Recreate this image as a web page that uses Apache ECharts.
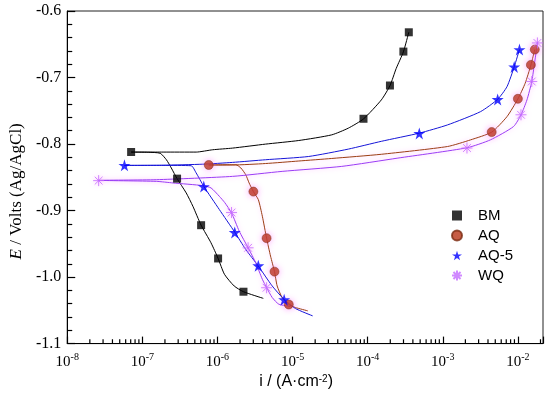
<!DOCTYPE html>
<html>
<head>
<meta charset="utf-8">
<script src="https://cdn.jsdelivr.net/npm/echarts@6/dist/echarts.min.js"></script>
<style>html,body{margin:0;padding:0;background:#fff}#c{width:550px;height:395px}</style>
</head>
<body>
<div id="c"></div>
<script>
// ---- data: [current density A/cm2, potential V] ----
const bmLine = [[4.08e-6,-1.032],[2.22e-6,-1.022],[1.67e-6,-1.0134],[1.24e-6,-0.9958],[1.02e-6,-0.9719],[8.2e-7,-0.9484],[6.06e-7,-0.922],[4.71e-7,-0.8935],[3.84e-7,-0.8735],[2.90e-7,-0.852],[2.43e-7,-0.836],[2.09e-7,-0.8236],[1.73e-7,-0.8139],[1.20e-7,-0.8124],[7.09e-8,-0.8121],[1.89e-7,-0.8121],[5.21e-7,-0.8121],[8.65e-7,-0.8086],[1.59e-6,-0.8061],[4.38e-6,-0.8001],[1.21e-5,-0.7947],[3.32e-5,-0.7862],[5.53e-5,-0.7761],[8.80e-5,-0.7622],[1.52e-4,-0.7337],[1.98e-4,-0.7123],[2.40e-4,-0.6863],[2.99e-4,-0.6614],[3.53e-4,-0.6319]];
const bmMarks = [[7.09e-8,-0.812],[2.90e-7,-0.852],[6.06e-7,-0.922],[1.02e-6,-0.972],[2.22e-6,-1.022],[8.80e-5,-0.762],[1.98e-4,-0.712],[2.99e-4,-0.661],[3.53e-4,-0.632]];

const aqLine = [[1.60e-5,-1.0508],[1.09e-5,-1.0457],[8.91e-6,-1.0412],[7.27e-6,-1.0307],[6.24e-6,-1.0134],[5.75e-6,-0.9918],[5.09e-6,-0.9684],[4.51e-6,-0.9415],[3.96e-6,-0.9085],[3.50e-6,-0.8835],[3.01e-6,-0.8715],[2.64e-6,-0.8585],[2.38e-6,-0.8461],[2.05e-6,-0.836],[1.76e-6,-0.8311],[7.66e-7,-0.8315],[1.59e-6,-0.8315],[4.38e-6,-0.8293],[1.21e-5,-0.8255],[3.32e-5,-0.8217],[1.52e-4,-0.8154],[1.16e-3,-0.8037],[2.35e-3,-0.7937],[4.48e-3,-0.7821],[7.16e-3,-0.7588],[1.00e-2,-0.7322],[1.25e-2,-0.7087],[1.49e-2,-0.6813],[1.68e-2,-0.6578]];
const aqMarks = [[7.66e-7,-0.8315],[3.01e-6,-0.8715],[4.51e-6,-0.9415],[5.75e-6,-0.9918],[8.91e-6,-1.0412],[4.48e-3,-0.782],[1.00e-2,-0.732],[1.49e-2,-0.681],[1.68e-2,-0.658]];

const aq5Line = [[1.85e-5,-1.0583],[1.09e-5,-1.0472],[7.73e-6,-1.0337],[5.36e-6,-1.0134],[3.50e-6,-0.9834],[2.38e-6,-0.9584],[1.70e-6,-0.9325],[1.06e-6,-0.8985],[6.58e-7,-0.8636],[5.21e-7,-0.8435],[4.47e-7,-0.8326],[1.89e-7,-0.8321],[5.78e-8,-0.8321],[1.89e-7,-0.8318],[6.38e-7,-0.8303],[1.59e-6,-0.8276],[4.38e-6,-0.8236],[1.64e-5,-0.8187],[5.53e-5,-0.8076],[1.52e-4,-0.7959],[4.87e-4,-0.7836],[1.16e-3,-0.7712],[3.18e-3,-0.7513],[5.38e-3,-0.7327],[7.16e-3,-0.7138],[8.94e-3,-0.6839],[1.05e-2,-0.6578]];
const aq5Marks = [[5.78e-8,-0.832],[6.58e-7,-0.864],[1.70e-6,-0.933],[3.50e-6,-0.983],[7.73e-6,-1.034],[4.87e-4,-0.784],[5.38e-3,-0.733],[8.94e-3,-0.684],[1.05e-2,-0.658]];

const wqLine = [[9.36e-6,-1.0442],[6.57e-6,-1.0408],[5.36e-6,-1.0307],[4.51e-6,-1.0158],[3.96e-6,-1.0033],[3.23e-6,-0.9783],[2.56e-6,-0.9559],[1.95e-6,-0.931],[1.54e-6,-0.9034],[1.25e-6,-0.888],[1.06e-6,-0.8786],[8.22e-7,-0.866],[6.38e-7,-0.8625],[2.56e-7,-0.8585],[1.54e-7,-0.8561],[2.62e-8,-0.8546],[1.54e-7,-0.8536],[1.59e-6,-0.8486],[7.27e-6,-0.8411],[4.51e-5,-0.8336],[2.53e-4,-0.8211],[2.10e-3,-0.8056],[4.31e-3,-0.7937],[8.75e-3,-0.7737],[1.10e-2,-0.7562],[1.32e-2,-0.7337],[1.53e-2,-0.7063],[1.64e-2,-0.6839],[1.82e-2,-0.6479]];
const wqMarks = [[2.62e-8,-0.855],[1.54e-6,-0.903],[2.56e-6,-0.956],[4.51e-6,-1.016],[2.10e-3,-0.806],[1.10e-2,-0.756],[1.53e-2,-0.706],[1.82e-2,-0.648]];

const seriesNames = ['BM','AQ','AQ-5','WQ'];
const xMinorTicks = [
  2e-8,3e-8,4e-8,5e-8,6e-8,7e-8,8e-8,9e-8,
  2e-7,3e-7,4e-7,5e-7,6e-7,7e-7,8e-7,9e-7,
  2e-6,3e-6,4e-6,5e-6,6e-6,7e-6,8e-6,9e-6,
  2e-5,3e-5,4e-5,5e-5,6e-5,7e-5,8e-5,9e-5,
  2e-4,3e-4,4e-4,5e-4,6e-4,7e-4,8e-4,9e-4,
  2e-3,3e-3,4e-3,5e-3,6e-3,7e-3,8e-3,9e-3,
  2e-2
];
const tickBase = -1.1, tickTop = -1.0933;

const SERIF = 'Liberation Serif';
const SANS = 'Liberation Sans';
const starPath = 'path://M0,-1L0.2245,-0.309L0.951,-0.309L0.363,0.118L0.588,0.809L0,0.382L-0.588,0.809L-0.363,0.118L-0.951,-0.309L-0.2245,-0.309Z';
const astPath = 'path://M0,-1L0,1M-1,0L1,0M-0.707,-0.707L0.707,0.707M-0.707,0.707L0.707,-0.707';

const chart = echarts.init(document.getElementById('c'), null, {renderer: 'canvas'});

function lineS(name, data, color, extra) {
  return Object.assign({
    name: name + ' curve', type: 'line', data: data, showSymbol: false, symbol: 'none',
    smooth: 0.2, lineStyle: {color: color, width: 1}, z: 2, silent: true
  }, extra || {});
}

const minorTickData = [];
xMinorTicks.forEach(function (v) { minorTickData.push([v, tickBase], [v, tickTop], '-'); });

const option = {
  animation: false,
  grid: {left: 63, right: 7, top: 11, bottom: 50, show: true, borderColor: '#222', borderWidth: 1},
  legend: {
    orient: 'vertical', left: 446, top: 203, itemWidth: 10, itemHeight: 10, itemGap: 5,
    data: seriesNames,
    textStyle: {fontFamily: SANS, fontSize: 15, color: '#000', padding: [0, 0, 0, 11]}
  },
  xAxis: {
    type: 'log', logBase: 10, min: 1e-8, max: 0.0216,
    name: '{n|i / (A·cm}{s|-2}{n|)}', nameLocation: 'middle', nameGap: 26,
    nameTextStyle: {
      padding: [0, 18, 0, 0],
      rich: {n: {fontFamily: SANS, fontSize: 16, color: '#000'}, s: {fontFamily: SANS, fontSize: 10, color: '#000', verticalAlign: 'top', lineHeight: 10}}
    },
    axisLine: {lineStyle: {color: '#000', width: 1}},
    axisTick: {inside: true, length: 7, lineStyle: {color: '#000', width: 1.2}},
    splitLine: {show: false},
    axisLabel: {
      margin: 9,
      formatter: function (v) {
        const l = Math.log10(v); const n = Math.round(l);
        if (Math.abs(l - n) > 1e-6) return '';
        return '{b|10}{s|' + n + '}';
      },
      rich: {b: {fontFamily: SERIF, fontSize: 15, color: '#000', lineHeight: 18}, s: {fontFamily: SERIF, fontSize: 10, color: '#000', verticalAlign: 'top', lineHeight: 10}}
    }
  },
  yAxis: {
    type: 'value', min: -1.1, max: -0.6, interval: 0.1,
    name: '{i|E}{n| / Volts (Ag/AgCl)}', nameLocation: 'middle', nameGap: 40, nameRotate: 90,
    nameTextStyle: {
      padding: [0, 28, 0, 0],
      rich: {i: {fontFamily: SERIF, fontSize: 17, fontStyle: 'italic', color: '#000'}, n: {fontFamily: SERIF, fontSize: 17, color: '#000'}}
    },
    axisLine: {show: true, lineStyle: {color: '#000', width: 1}},
    axisTick: {show: true, inside: true, length: 8, lineStyle: {color: '#000', width: 1.2}},
    minorTick: {show: true, splitNumber: 5, length: 5, lineStyle: {color: '#000', width: 1.2}},
    splitLine: {show: false},
    axisLabel: {fontFamily: SERIF, fontSize: 16, color: '#000', margin: 6, formatter: function (v) { return v.toFixed(1); }}
  },
  series: [
    {
      name: 'x minor ticks', type: 'line', data: minorTickData, connectNulls: false,
      showSymbol: false, symbol: 'none', silent: true, clip: false, z: 6,
      lineStyle: {color: '#000', width: 1.2}
    },
    lineS('BM', bmLine, '#000'),
    lineS('AQ', aqLine, '#9a3d12', {lineStyle: {color: '#9a3d12', width: 1, shadowColor: 'rgba(255,150,255,0.5)', shadowBlur: 4}}),
    lineS('AQ-5', aq5Line, '#1515d8'),
    lineS('WQ', wqLine, '#9a3cf5', {lineStyle: {color: '#9a3cf5', width: 1, shadowColor: 'rgba(255,130,255,0.6)', shadowBlur: 5}}),
    {name: 'BM', type: 'scatter', data: bmMarks, symbol: 'rect', symbolSize: 8, itemStyle: {color: '#000'}, z: 4},
    {name: 'AQ', type: 'scatter', data: aqMarks, symbol: 'circle', symbolSize: 9, itemStyle: {color: '#b83516', borderColor: '#7a2a10', borderWidth: 0.6, shadowColor: 'rgba(255,120,255,0.8)', shadowBlur: 6}, z: 4},
    {name: 'AQ-5', type: 'scatter', data: aq5Marks, symbol: starPath, symbolSize: 12, itemStyle: {color: '#0000ff'}, z: 4},
    {name: 'WQ', type: 'scatter', data: wqMarks, symbol: astPath, symbolSize: 11, itemStyle: {color: 'rgba(0,0,0,0)', borderColor: '#c46cff', borderWidth: 1, shadowColor: 'rgba(255,150,255,0.7)', shadowBlur: 5}, z: 4}
  ]
};
chart.setOption(option);
</script>
</body>
</html>
